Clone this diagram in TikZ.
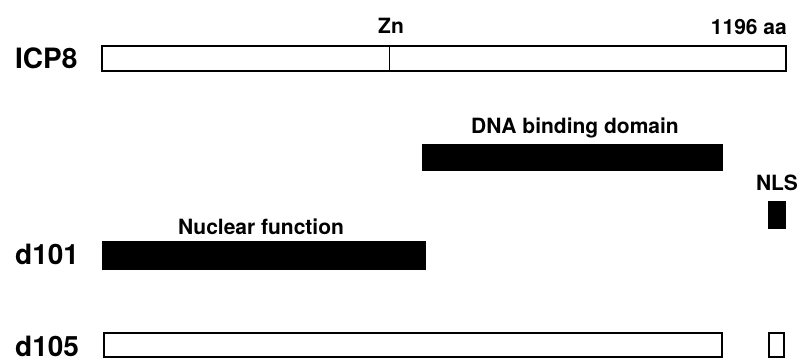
\documentclass[tikz,border=0pt]{standalone}
\usepackage{fontspec}
\setmainfont{TeX Gyre Heros}
\usepackage{tikz}
\usetikzlibrary{positioning}

\begin{document}
\begin{tikzpicture}[
  x=1pt,y=-1pt,
  node distance=3pt and 6pt,
  bar/.style={draw,line width=1.1pt,minimum height=25pt,inner sep=0pt,outer sep=0pt,anchor=north west},
  filled/.style={bar,fill=black},
  protname/.style={font=\fontsize{28}{32}\selectfont\bfseries,inner sep=0pt,anchor=base west},
  domlbl/.style={font=\fontsize{21}{24}\selectfont\bfseries,inner sep=0pt,anchor=base},
]
  \useasboundingbox (0,0) rectangle (804,362);
  % full-length protein
  \node[bar,minimum width=684pt] (icp8) at (102,46) {};
  \node[protname] (nICP) at (15,68) {ICP8};
  \coordinate (zn) at (389,46);
  \draw[line width=0.9pt] (zn) -- (zn |- icp8.south);
  \node[domlbl] (tZn) at (391,33) {Zn};
  \node[domlbl,anchor=base east] (aa) at (787,34) {1196 aa};
  % domains
  \node[filled,minimum width=299pt] (dbd) at (423,145) {};
  \node[domlbl] (tDBD) at (575,133) {DNA binding domain};
  \node[filled,minimum width=16pt,minimum height=26pt] (nls) at (769,202) {};
  \node[domlbl,above=11pt of nls] (tNLS) {NLS};
  % mutants
  \node[filled,minimum width=322pt,minimum height=27pt] (d101) at (103,242) {};
  \node[protname] (nd101) at (15,264) {d101};
  \node[domlbl] (tNuc) at (261,234) {Nuclear function};
  \node[bar,minimum width=618pt,minimum height=24pt] (d105) at (104,333) {};
  \node[bar,minimum width=15pt,minimum height=24pt] (d105n) at (769,333) {};
  \node[protname] (nd105) at (15,356) {d105};
\end{tikzpicture}
\end{document}
